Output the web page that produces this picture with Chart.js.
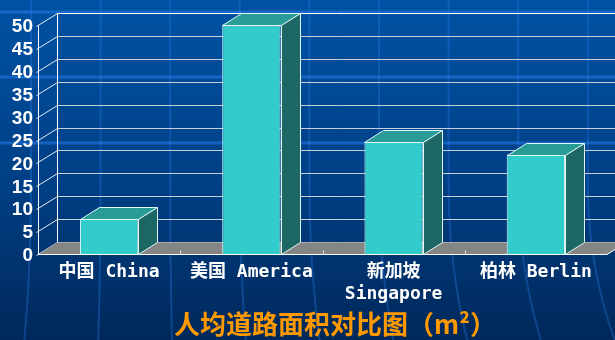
<!DOCTYPE html>
<html>
<head>
<meta charset="utf-8">
<script src="https://cdn.jsdelivr.net/npm/chart.js@4.4.1/dist/chart.umd.min.js"></script>
<style>
  html, body { margin: 0; padding: 0; background: #003a7a; overflow: hidden; }
  #wrap { width: 615px; height: 340px; position: relative; }
</style>
</head>
<body>
<div id="wrap"><canvas id="roadChart"></canvas></div>
<script>
// ── DATA ─────────────────────────────────────────────
const categories = ['中国 China', '美国 America', ['新加坡', 'Singapore'], '柏林 Berlin'];
const roadArea   = [7.7, 49.9, 24.5, 21.7];          // m² per person
const yTicks     = [0, 5, 10, 15, 20, 25, 30, 35, 40, 45, 50];
const chartTitle = '人均道路面积对比图（m²）';

// 3D depth of the box (back wall offset from front plane)
const DX = 19, DY = -12;

// ── BACKGROUND (slide-like blue with faint grid streaks) ──
const backdrop = {
  id: 'backdrop',
  beforeDraw(chart) {
    const { ctx, width, height } = chart;
    ctx.save();
    const g = ctx.createLinearGradient(0, 0, 0, height);
    g.addColorStop(0, '#0052a4');
    g.addColorStop(0.55, '#003f84');
    g.addColorStop(1, '#00285a');
    ctx.fillStyle = g;
    ctx.fillRect(0, 0, width, height);

    ctx.strokeStyle = 'rgba(40,120,230,0.35)';
    ctx.lineWidth = 2;
    for (let x = 31; x < width + 40; x += 69.6) {
      const lean = (x - 140) * 0.06;
      ctx.beginPath();
      ctx.moveTo(x, 0);
      ctx.lineTo(x, 185);
      ctx.quadraticCurveTo(x, 265, x + lean, height);
      ctx.stroke();
    }
    ctx.strokeStyle = 'rgba(40,130,240,0.5)';
    ctx.lineWidth = 3;
    [12, 77, 143].forEach(y => {
      ctx.beginPath();
      ctx.moveTo(0, y);
      ctx.lineTo(width, y);
      ctx.stroke();
    });
    ctx.restore();
  }
};

// ── 3D WALL, FLOOR AND BAR FACES ─────────────────────
const box3d = {
  id: 'box3d',
  beforeDatasetsDraw(chart) {
    const { ctx, chartArea: a, scales: { x, y } } = chart;
    const L = a.left + 0.5, B = Math.round(a.bottom) + 0.5;
    ctx.save();
    ctx.lineWidth = 1;

    // back wall gridlines + diagonal tick connectors
    yTicks.forEach(v => {
      const yf = Math.round(y.getPixelForValue(v)) + 0.5;
      ctx.strokeStyle = v === yTicks[yTicks.length - 1] ? '#ffffff' : '#c9d0da';
      ctx.beginPath();
      ctx.moveTo(L + DX, yf + DY);
      ctx.lineTo(chart.width, yf + DY);
      ctx.stroke();
      ctx.strokeStyle = '#e8eef5';
      ctx.beginPath();
      ctx.moveTo(L - 2, yf + 1);
      ctx.lineTo(L + DX, yf + DY);
      ctx.stroke();
    });

    // back wall left edge
    const top = Math.round(y.getPixelForValue(yTicks[yTicks.length - 1])) + 0.5;
    ctx.strokeStyle = '#ffffff';
    ctx.beginPath();
    ctx.moveTo(L + DX, top + DY);
    ctx.lineTo(L + DX, B + DY);
    ctx.stroke();

    // floor
    const R = a.right;
    ctx.fillStyle = '#858585';
    ctx.beginPath();
    ctx.moveTo(L, B);
    ctx.lineTo(R, B);
    ctx.lineTo(R + DX, B + DY);
    ctx.lineTo(L + DX, B + DY);
    ctx.closePath();
    ctx.fill();
    ctx.strokeStyle = '#ffffff';
    ctx.beginPath();
    ctx.moveTo(L, B);
    ctx.lineTo(R, B);
    ctx.lineTo(R + DX, B + DY);
    ctx.stroke();

    // front value axis
    ctx.beginPath();
    ctx.moveTo(L, top);
    ctx.lineTo(L, B);
    ctx.stroke();

    // category boundary ticks on the floor edge
    ctx.strokeStyle = '#dddddd';
    for (let i = 0; i < categories.length - 1; i++) {
      const xb = Math.round((x.getPixelForValue(i) + x.getPixelForValue(i + 1)) / 2) + 0.5;
      ctx.beginPath();
      ctx.moveTo(xb, B);
      ctx.lineTo(xb, B - 4);
      ctx.stroke();
    }
    ctx.restore();
  },

  afterDatasetsDraw(chart) {
    const { ctx } = chart;
    const meta = chart.getDatasetMeta(0);
    ctx.save();
    ctx.lineWidth = 1;
    ctx.strokeStyle = '#dff7f7';
    meta.data.forEach(bar => {
      const p = bar.getProps(['x', 'y', 'base', 'width'], true);
      const x0 = Math.round(p.x - p.width / 2) + 0.5;
      const x1 = Math.round(p.x + p.width / 2) + 0.5;
      const yt = Math.round(p.y) + 0.5;
      const yb = Math.round(p.base) + 0.5;

      // top face
      ctx.fillStyle = '#2a9c98';
      ctx.beginPath();
      ctx.moveTo(x0, yt);
      ctx.lineTo(x1, yt);
      ctx.lineTo(x1 + DX, yt + DY);
      ctx.lineTo(x0 + DX, yt + DY);
      ctx.closePath();
      ctx.fill();
      ctx.stroke();

      // side face
      ctx.fillStyle = '#1d6764';
      ctx.beginPath();
      ctx.moveTo(x1, yt);
      ctx.lineTo(x1 + DX, yt + DY);
      ctx.lineTo(x1 + DX, yb + DY);
      ctx.lineTo(x1, yb);
      ctx.closePath();
      ctx.fill();
      ctx.stroke();
    });
    ctx.restore();
  },

  afterDraw(chart) {
    const { ctx } = chart;
    ctx.save();
    ctx.font = 'bold 26px "Noto Sans CJK SC", sans-serif';
    ctx.fillStyle = '#ff9900';
    ctx.textAlign = 'center';
    ctx.textBaseline = 'middle';
    ctx.fillText(chartTitle, 335, 324);
    ctx.restore();
  }
};

new Chart(document.getElementById('roadChart'), {
  type: 'bar',
  data: {
    labels: categories,
    datasets: [{
      data: roadArea,
      backgroundColor: '#33cccc',
      borderColor: '#dff7f7',
      borderWidth: 1,
      categoryPercentage: 1,
      barPercentage: 0.41,
      clip: false
    }]
  },
  options: {
    responsive: true,
    maintainAspectRatio: false,
    animation: false,
    layout: { padding: { top: 25, right: 8, bottom: 0, left: 0 } },
    plugins: {
      legend: { display: false },
      tooltip: { enabled: false }
    },
    scales: {
      x: {
        grid: { display: false, drawTicks: false },
        border: { display: false },
        afterFit: s => { s.height = 86; },
        ticks: {
          color: '#ffffff',
          padding: 7,
          maxRotation: 0,
          autoSkip: false,
          font: { family: '"DejaVu Sans Mono", "Noto Sans CJK SC", monospace', size: 18, weight: 'bold', lineHeight: 1.22 }
        }
      },
      y: {
        min: 0, max: 50,
        grid: { display: false, drawTicks: false },
        border: { display: false },
        afterFit: s => { s.width = 38; },
        afterBuildTicks: s => { s.ticks = yTicks.map(v => ({ value: v })); },
        ticks: {
          color: '#ffffff',
          padding: 5,
          labelOffset: 2,
          autoSkip: false,
          font: { family: '"Liberation Sans", Arial, sans-serif', size: 19, weight: 'bold' }
        }
      }
    }
  },
  plugins: [backdrop, box3d]
});
</script>
</body>
</html>
